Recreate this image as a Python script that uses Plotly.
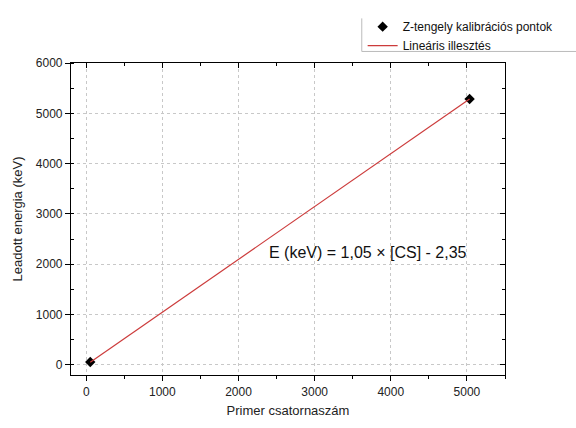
import plotly.graph_objects as go

# Data
channels = [53, 5035]
energies = [58, 5285]
slope = 1.05
intercept = -2.35
fit_x = [53, 5035]
fit_y = [slope * x + intercept for x in fit_x]
series_names = ["Z-tengely kalibrációs pontok", "Lineáris illesztés"]
x_title = "Primer csatornaszám"
y_title = "Leadott energia (keV)"
equation = "E (keV) = 1,05 × [CS] - 2,35"

FONT = "Liberation Sans, Arial, sans-serif"

fig = go.Figure()
fig.add_trace(go.Scatter(x=channels, y=energies, mode="markers", name=series_names[0],
                         marker=dict(symbol="diamond", size=8, color="black")))
fig.add_trace(go.Scatter(x=fit_x, y=fit_y, mode="lines", name=series_names[1],
                         line=dict(color="#cc3b3b", width=1.2)))
# invisible trace for the mirrored axes
fig.add_trace(go.Scatter(x=[0], y=[0], xaxis="x2", yaxis="y2", mode="markers",
                         marker=dict(opacity=0), showlegend=False, hoverinfo="skip"))

xr = [-200, 5500]
yr = [-200, 6000]
common = dict(showline=True, linecolor="black", linewidth=1.2, zeroline=False,
              tickcolor="black", tickfont=dict(family=FONT, size=12, color="#222"))
fig.update_layout(
    width=576, height=428,
    margin=dict(l=71, r=71, t=61, b=45),
    paper_bgcolor="white", plot_bgcolor="white",
    font=dict(family=FONT, color="#222"),
    xaxis=dict(range=xr, dtick=1000, tick0=0, ticks="outside", ticklen=5,
               showgrid=True, gridcolor="#c8c8c8", griddash="dot", gridwidth=1,
               minor=dict(dtick=500, tick0=0, ticks="outside", ticklen=3, tickcolor="black", showgrid=False),
               title=dict(text=x_title, font=dict(family=FONT, size=13, color="#222"), standoff=8),
               **common),
    yaxis=dict(range=yr, dtick=1000, tick0=0, ticks="outside", ticklen=5,
               showgrid=True, gridcolor="#c8c8c8", griddash="dot", gridwidth=1,
               minor=dict(dtick=500, tick0=0, ticks="inside", ticklen=3, tickcolor="black", showgrid=False),
               title=dict(text=y_title, font=dict(family=FONT, size=13, color="#222"), standoff=10),
               **common),
    xaxis2=dict(range=xr, overlaying="x", side="top", dtick=1000, tick0=0, ticks="inside", ticklen=5,
                showticklabels=False, showgrid=False,
                minor=dict(dtick=500, tick0=0, ticks="inside", ticklen=3, tickcolor="black"),
                **common),
    yaxis2=dict(range=yr, overlaying="y", side="right", dtick=1000, tick0=0, ticks="inside", ticklen=5,
                showticklabels=False, showgrid=False,
                minor=dict(dtick=500, tick0=0, ticks="inside", ticklen=3, tickcolor="black"),
                **common),
    legend=dict(x=0.672, y=1.163, xanchor="left", yanchor="top",
                bgcolor="rgba(0,0,0,0)", borderwidth=0,
                font=dict(family=FONT, size=12, color="#111"),
                tracegroupgap=0, itemwidth=30),
    showlegend=True,
)
fig.add_annotation(x=2380, y=2230, xref="x", yref="y", text=equation, showarrow=False,
                   xanchor="left", yanchor="middle",
                   font=dict(family=FONT, size=16, color="#111"))
# legend frame (left and bottom edges visible)
fig.add_shape(type="line", xref="paper", yref="paper", x0=0.670, x1=0.670, y0=1.037, y1=1.143,
              line=dict(color="#bbbbbb", width=1))
fig.add_shape(type="line", xref="paper", yref="paper", x0=0.670, x1=1.17, y0=1.037, y1=1.037,
              line=dict(color="#bbbbbb", width=1))

fig.write_html("out.html")
